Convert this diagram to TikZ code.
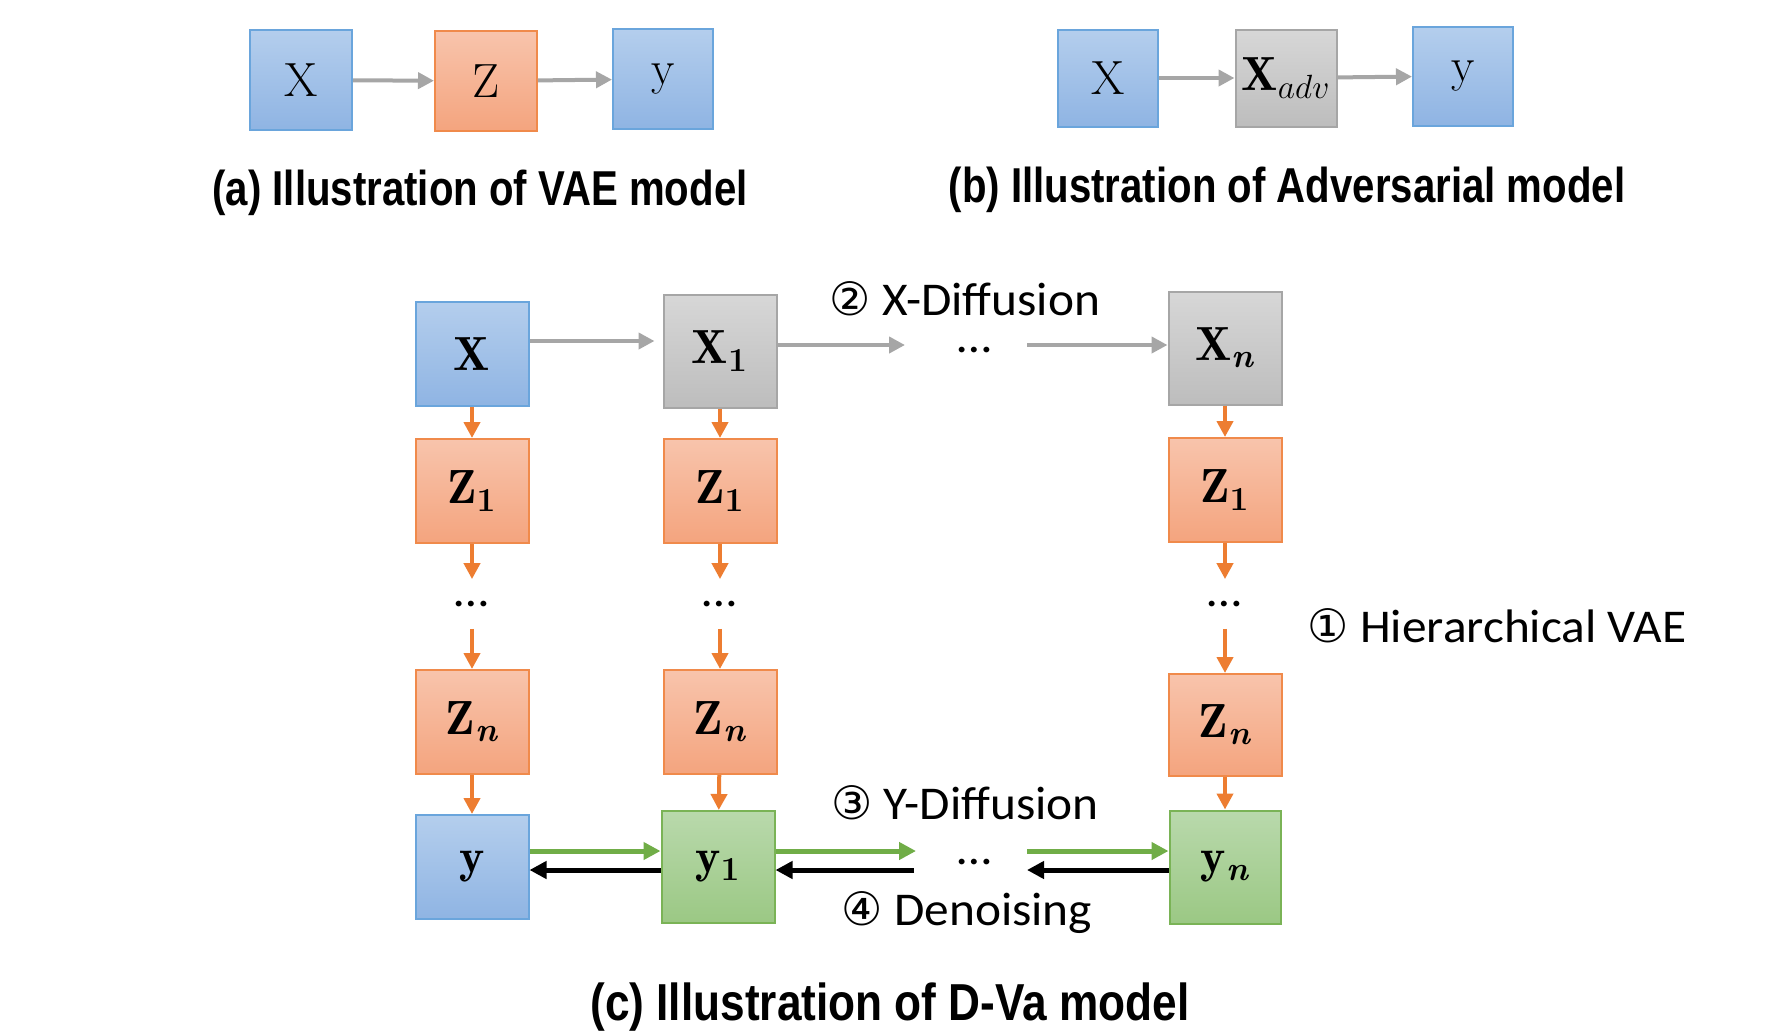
\documentclass[tikz,border=0pt]{standalone}
\usepackage{fix-cm}
\usepackage{amsmath}
\usepackage{fontspec}
\usetikzlibrary{arrows.meta}
\newfontfamily\capfont[FakeStretch=0.82]{Liberation Sans}
\newfontfamily\capcfont[FakeStretch=0.85]{Liberation Sans}
\newfontfamily\lblfont[FakeStretch=1.05]{Carlito}
\newfontfamily\circfont{DejaVu Sans}
\newcommand{\cnum}[1]{{\circfont\fontsize{23}{24}\selectfont #1}}
\newcommand{\bsub}[2]{$\mathbf{#1}_{\text{\bfseries #2}}$}
\newcommand{\bsubn}[1]{$\mathbf{#1}_{\text{\bfseries\itshape n}}$}
\definecolor{bluetop}{HTML}{B4CEED}
\definecolor{bluebot}{HTML}{8FB4E3}
\definecolor{bluedraw}{HTML}{6AA5DC}
\definecolor{ortop}{HTML}{F8C4AC}
\definecolor{orbot}{HTML}{F4A47E}
\definecolor{ordraw}{HTML}{F08A4B}
\definecolor{grtop}{HTML}{D7D7D7}
\definecolor{grbot}{HTML}{BDBDBD}
\definecolor{grdraw}{HTML}{A6A6A6}
\definecolor{gntop}{HTML}{B9D9AC}
\definecolor{gnbot}{HTML}{9BC884}
\definecolor{gndraw}{HTML}{7AB356}
\definecolor{arrgray}{HTML}{A6A6A6}
\definecolor{arror}{HTML}{ED7D31}
\definecolor{arrgn}{HTML}{70AD47}
\begin{document}
\begin{tikzpicture}[x=0.5pt,y=-0.5pt,
  box/.style={draw, line width=1pt, inner sep=0pt, minimum width=56.5pt, minimum height=52pt, font=\fontsize{24}{28}\selectfont},
  bluebox/.style={box, draw=bluedraw, top color=bluetop, bottom color=bluebot},
  orbox/.style={box, draw=ordraw, top color=ortop, bottom color=orbot},
  grbox/.style={box, draw=grdraw, top color=grtop, bottom color=grbot},
  gnbox/.style={box, draw=gndraw, top color=gntop, bottom color=gnbot},
  garr/.style={draw=arrgray, line width=2pt, -{Triangle[length=8pt,width=8pt]}},
  oarr/.style={draw=arror, line width=2pt, -{Triangle[length=8pt,width=8pt]}},
  narr/.style={draw=arrgn, line width=2.5pt, -{Triangle[length=8.5pt,width=8.5pt]}},
  karr/.style={draw=black, line width=2.5pt, -{Triangle[length=8.5pt,width=8.5pt]}},
  caption/.style={font=\capfont\bfseries\fontsize{24.5}{28}\selectfont, inner sep=0pt, anchor=base},
  lbl/.style={font=\lblfont\fontsize{23.5}{28}\selectfont, inner sep=0pt, anchor=base},
  hdots/.style={font=\lblfont\fontsize{23.5}{28}\selectfont, inner sep=0pt, anchor=base, text height=3pt, text depth=0pt},
  vdots/.style={font=\lblfont\fontsize{23.5}{28}\selectfont, inner sep=0pt, minimum height=24.5pt, minimum width=20pt},
]
\useasboundingbox[fill=white] (0,0) rectangle (1784,1034);

% (a)
\node[bluebox, minimum width=51pt, minimum height=50pt] (ax) at (301,80) {X};
\node[orbox, minimum width=51pt, minimum height=50pt] (az) at (486,81) {Z};
\node[bluebox, minimum width=50pt, minimum height=50pt] (ay) at (663,79) {y};
\draw[garr] (ax) -- (az);
\draw[garr] (az) -- (ay);
\node[caption] (capa) at (480,205) {(a) Illustration of VAE model};

% (b)
\node[bluebox, minimum width=50pt, minimum height=48.5pt] (bx) at (1108,78) {X};
\node[grbox, minimum width=50.5pt, minimum height=48.5pt] (badv) at (1286,78) {$\mathbf{X}_{adv}$};
\node[bluebox, minimum width=50pt, minimum height=49.5pt] (by) at (1463,76) {y};
\draw[garr] (bx) -- (badv);
\draw[garr] (badv) -- (by);
\node[caption] (capb) at (1287,202) {(b) Illustration of Adversarial model};

% (c) column 1
\node[bluebox] (cx) at (472,354) {$\mathbf{X}$};
\node[orbox] (z11) at (472,491) {\bsub{Z}{1}};
\node[vdots] (d1) at (472,604) {\ldots};
\node[orbox] (zn1) at (472,722) {\bsubn{Z}};
\node[bluebox] (cy) at (472,867) {$\mathbf{y}$};
% column 2
\node[grbox, minimum height=56.5pt] (x1) at (720,351) {\bsub{X}{1}};
\node[orbox] (z12) at (720,491) {\bsub{Z}{1}};
\node[vdots] (d2) at (720,604) {\ldots};
\node[orbox] (zn2) at (720,722) {\bsubn{Z}};
\node[gnbox, minimum height=56pt] (y1) at (718,867) {\bsub{y}{1}};
% column 3
\node[grbox, minimum height=56.5pt] (xn) at (1225,348) {\bsubn{X}};
\node[orbox] (z13) at (1225,490) {\bsub{Z}{1}};
\node[vdots] (d3) at (1225,604) {\ldots};
\node[orbox, minimum height=51pt] (zn3) at (1225,725) {\bsubn{Z}};
\node[gnbox, minimum width=55.5pt, minimum height=56.5pt] (yn) at (1225,867) {\bsubn{y}};

% vertical orange arrows
\foreach \a/\b in {cx/z11, z11/d1, d1/zn1, zn1/cy, x1/z12, z12/d2, d2/zn2, zn2/y1, xn/z13, z13/d3, d3/zn3, zn3/yn}
  \draw[oarr] (\a) -- (\b);

% top row
\coordinate (t1) at (905,345);
\coordinate (t2) at (1027,345);
\node[hdots] (tdots) at (975,352) {\ldots};
\draw[garr, shorten >=4pt] ([yshift=6.5pt]cx.east) -- ([yshift=5pt]x1.west);
\draw[garr] ([yshift=3pt]x1.east) -- (t1);
\draw[garr] (t2) -- ([yshift=1.5pt]xn.west);

% bottom row
\coordinate (g1) at (916,851);
\coordinate (g2) at (1027,851);
\coordinate (k1) at (914,870);
\coordinate (k2) at (1027,870);
\node[hdots] (bdots) at (975,864) {\ldots};
\draw[narr] ([yshift=8pt]cy.east) -- ([yshift=8pt]y1.west);
\draw[narr] ([yshift=8pt]y1.east) -- (g1);
\draw[narr] (g2) -- ([yshift=8pt]yn.west);
\draw[karr] ([yshift=-1.5pt]y1.west) -- ([yshift=-1.5pt]cy.east);
\draw[karr] (k1) -- ([yshift=-1.5pt]y1.east);
\draw[karr] ([yshift=-1.5pt]yn.west) -- (k2);

% labels
\node[lbl] (lxd) at (965,315) {\cnum{②} X-Diffusion};
\node[lbl] (lhv) at (1497,642) {\cnum{①} Hierarchical VAE};
\node[lbl] (lyd) at (965,819) {\cnum{③} Y-Diffusion};
\node[lbl] (lde) at (967,925) {\cnum{④} Denoising};
\node[caption, font=\capcfont\bfseries\fontsize{26}{29}\selectfont] (capc) at (890,1020) {(c) Illustration of D-Va model};
\end{tikzpicture}
\end{document}
